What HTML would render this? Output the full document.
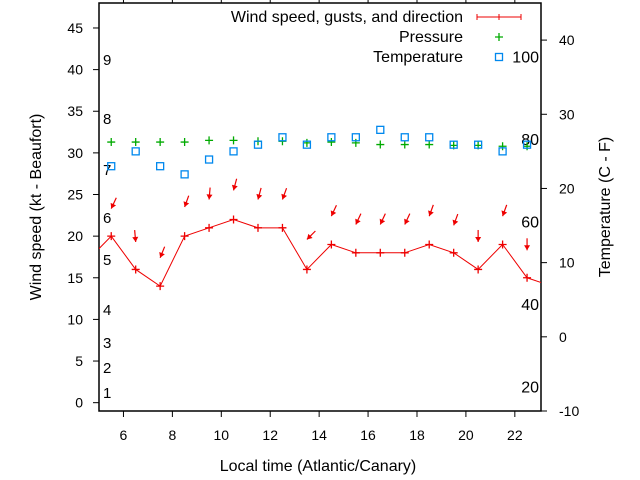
<!DOCTYPE html>
<html><head><meta charset="utf-8"><style>
body{margin:0;background:#fff}
svg{display:block;font-family:"Liberation Sans",sans-serif}
</style></head><body>
<svg width="640" height="480">
<g id="g"></g>
</svg>
<script>
const hours=[5.5,6.5,7.5,8.5,9.5,10.5,11.5,12.5,13.5,14.5,15.5,16.5,17.5,18.5,19.5,20.5,21.5,22.5];
const lineHours=[4.5,5.5,6.5,7.5,8.5,9.5,10.5,11.5,12.5,13.5,14.5,15.5,16.5,17.5,18.5,19.5,20.5,21.5,22.5,23.5];
const windSpeed=[17,20,16,14,20,21,22,21,21,16,19,18,18,18,19,18,16,19,15,14];
const gusts=[23.3,19.3,17.4,23.5,24.4,25.5,24.4,24.4,19.6,22.4,21.4,21.4,21.4,22.4,21.3,19.3,22.4,18.3];
const windDir=[25,-5,22,20,5,15,15,20,45,25,25,25,25,20,20,0,20,0];
const pressure=[31.3,31.3,31.3,31.3,31.5,31.5,31.4,31.4,31.2,31.3,31.2,31.0,31.0,31.0,30.9,30.9,30.8,30.8];
const temperature=[23.0,25.0,23.0,21.9,23.9,25.0,25.9,26.9,25.9,26.9,26.9,27.9,26.9,26.9,25.9,25.9,25.0,25.9];
const xTicks=[6,8,10,12,14,16,18,20,22];
const yTicks=[0,5,10,15,20,25,30,35,40,45];
const y2Ticks=[-10,0,10,20,30,40];
const beaufort=[[1,393],[2,368],[3,343],[4,310],[5,260],[6,218],[7,170],[8,119],[9,60]];
const fahr=[20,40,60,80,100];

const L=99,R=541,T=3,B=411;
const xs=v=>L+(v-5)/(23.07-5)*(R-L);
const ys=v=>B-(v+1)/49*(B-T);
const y2s=v=>B-(v+10)/55*(B-T);
const ftoc=f=>(f-32)*5/9;
const NS="http://www.w3.org/2000/svg";
const g=document.getElementById('g');
function mk(tag,attrs,parent){const e=document.createElementNS(NS,tag);for(const k in attrs)e.setAttribute(k,attrs[k]);(parent||g).appendChild(e);return e;}
function txt(x,y,s,anchor,parent,fs){const t=mk('text',{x:x,y:y,'font-size':fs||14,'text-anchor':anchor||'middle',fill:'#000'},parent);t.textContent=s;return t;}

const frame=mk('rect',{x:L,y:T,width:R-L,height:B-T,fill:'none',stroke:'#000','stroke-width':1.5});



xTicks.forEach(v=>{
  const x=xs(v);
  mk('line',{x1:x,x2:x,y1:B,y2:B+6,stroke:'#000'});
  mk('line',{x1:x,x2:x,y1:T,y2:T-6,stroke:'#000'});
  const t=txt(x,440,String(v));
  
  
});
yTicks.forEach(v=>{
  const y=ys(v);
  mk('line',{x1:L,x2:L-6,y1:y,y2:y,stroke:'#000'});
  const t=txt(83,y+5,String(v),'end');
  
  
});
y2Ticks.forEach(v=>{
  const y=y2s(v);
  mk('line',{x1:R,x2:R+6,y1:y,y2:y,stroke:'#000'});
  const t=txt(559,y+5,String(v),'start');
  
  
});
beaufort.forEach(b=>{
  const t=txt(103,b[1]+5,String(b[0]),'start',null,15);
  
  
});
fahr.forEach(f=>{
  const t=txt(539,y2s(ftoc(f))+6,String(f),'end',null,16);
  
  
});

let t=txt(318,471,'Local time (Atlantic/Canary)','middle',null,16);


t=txt(0,0,'Wind speed (kt - Beaufort)','middle',null,16);
t.setAttribute('transform','translate(41,207) rotate(-90)');


t=txt(0,0,'Temperature (C - F)','middle',null,16);
t.setAttribute('transform','translate(610,207) rotate(-90)');



const defs=mk('defs',{});
const cp=mk('clipPath',{id:'cp'},defs);
mk('rect',{x:L,y:T,width:R-L,height:B-T},cp);
const plot=mk('g',{'clip-path':'url(#cp)'});

const pts=lineHours.map((h,i)=>xs(h)+','+ys(windSpeed[i])).join(' ');
const wl=mk('polyline',{points:pts,fill:'none',stroke:'#e00','stroke-width':1},plot);


lineHours.forEach((h,i)=>{
  const x=xs(h),y=ys(windSpeed[i]);
  const p=mk('path',{d:`M${x-4},${y}H${x+4}M${x},${y-4}V${y+4}`,stroke:'#e00','stroke-width':1.3},plot);
  
  
});
hours.forEach((h,i)=>{
  const x=xs(h),y=ys(gusts[i]);
  const a=windDir[i]*Math.PI/180,len=12;
  const dx=Math.sin(a),dy=-Math.cos(a);
  const tx=x+dx*len,ty=y+dy*len;
  const px=-dy,py=dx;
  const hx=x+dx*5,hy=y+dy*5;
  const gg=mk('g',{},plot);
  
  
  mk('line',{x1:tx,y1:ty,x2:x,y2:y,stroke:'#e00','stroke-width':1.2},gg);
  mk('polygon',{points:`${x},${y} ${hx+px*3},${hy+py*3} ${hx-px*3},${hy-py*3}`,fill:'#e00'},gg);
});
hours.forEach((h,i)=>{
  const x=xs(h),y=ys(pressure[i]);
  const p=mk('path',{d:`M${x-4},${y}H${x+4}M${x},${y-4}V${y+4}`,stroke:'#0a0','stroke-width':1.3},plot);
  
  
});
hours.forEach((h,i)=>{
  const x=xs(h),y=y2s(temperature[i]);
  const r=mk('rect',{x:x-3.5,y:y-3.5,width:7,height:7,fill:'none',stroke:'#08e','stroke-width':1.3},plot);
  
  
});

const lg=mk('g',{});


t=txt(463,22,'Wind speed, gusts, and direction','end',lg,16);


mk('path',{d:'M477,17H521M477,14V20M521,14V20M499,14V20',stroke:'#e00','stroke-width':1},lg);
t=txt(463,42,'Pressure','end',lg,16);


mk('path',{d:'M495,37H503M499,33V41',stroke:'#0a0','stroke-width':1.3},lg);
t=txt(463,62,'Temperature','end',lg,16);


mk('rect',{x:495.5,y:53.5,width:7,height:7,fill:'none',stroke:'#08e','stroke-width':1.3},lg);
</script>
</body></html>
